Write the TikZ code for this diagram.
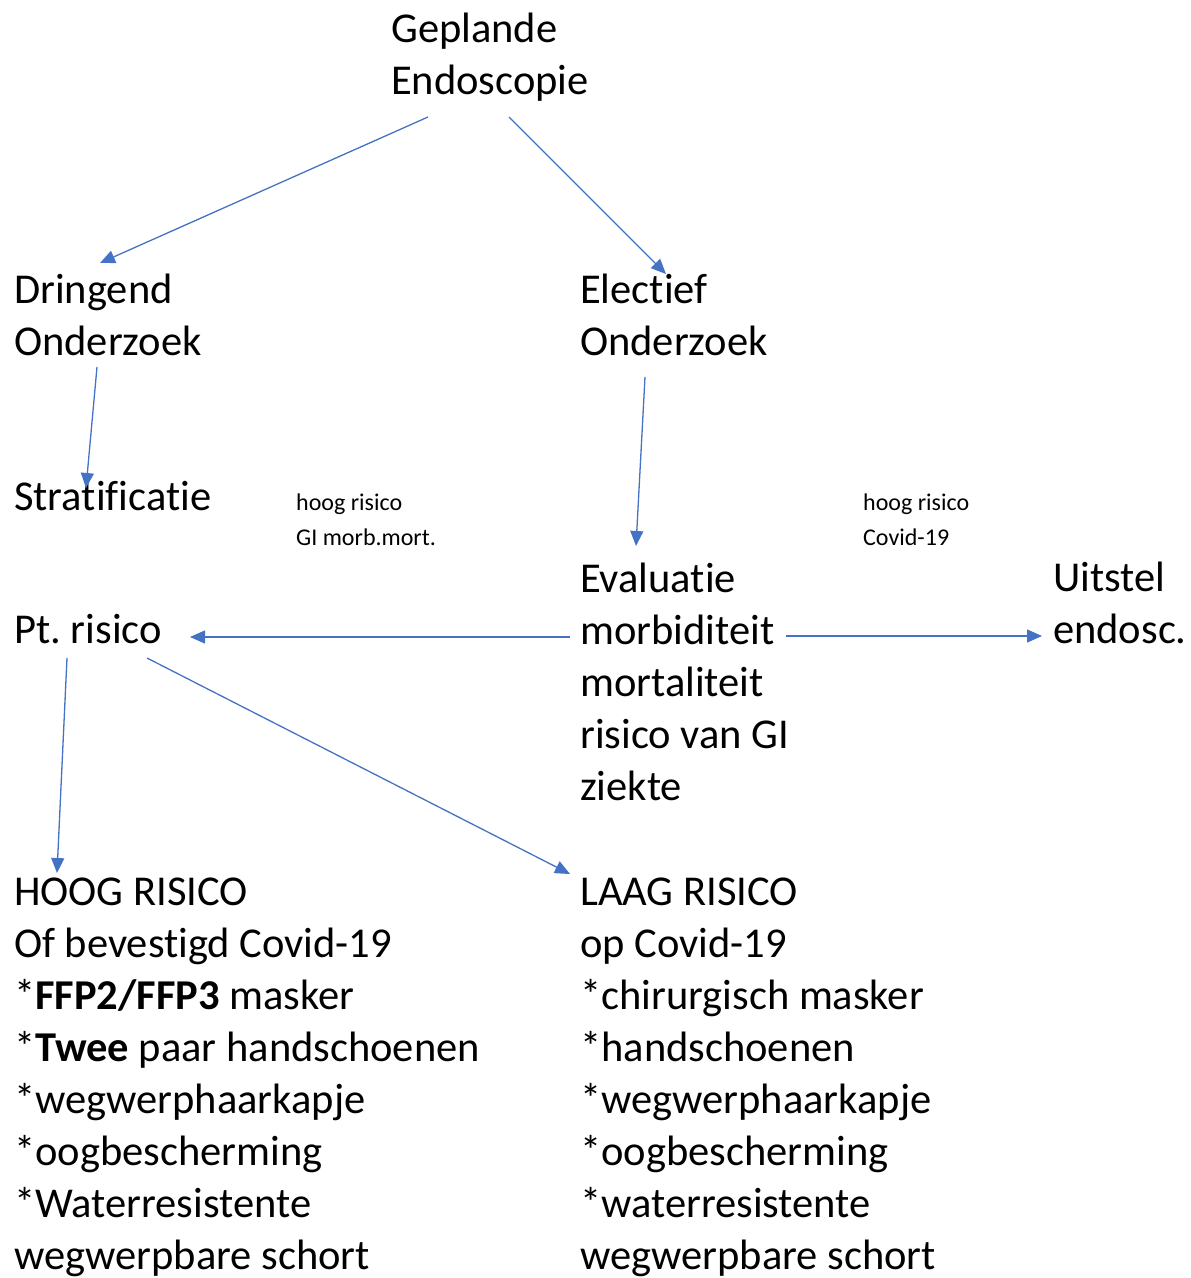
\documentclass[tikz,border=0pt]{standalone}
\usepackage{fontspec}
\setmainfont[Ligatures=NoCommon]{Carlito}
\frenchspacing
\usetikzlibrary{arrows.meta}
\definecolor{pijlblauw}{HTML}{4472C4}
\tikzset{
  tekst/.style={anchor=base west,inner sep=0pt,align=left,font=\fontsize{42.5}{52}\selectfont},
  klein/.style={anchor=base west,inner sep=0pt,align=left,font=\fontsize{24}{35}\selectfont},
  pijl/.style={-{Triangle[length=15pt,width=13pt]},color=pijlblauw,line width=1.3pt}
}
\begin{document}
\begin{tikzpicture}[x=1pt,y=-1pt]
      \useasboundingbox (0,0) rectangle (1191,1278);
      % base anchor = baseline of the last line
      \draw
        (391,94) node[tekst] (geplande){Geplande\\Endoscopie}
        (14,355) node[tekst] (dringend){Dringend\\Onderzoek}
        (580,355) node[tekst] (electief){Electief\\Onderzoek}
        (14,510) node[tekst] (stratificatie){Stratificatie}
        (296,545) node[klein] (hooggi){hoog risico\\GI morb.mort.}
        (863,545) node[klein] (hoogcovid){hoog risico\\Covid-19}
        (580,800) node[tekst] (evaluatie){Evaluatie\\morbiditeit\\mortaliteit\\risico van GI\\ziekte}
        (1053,643) node[tekst] (uitstel){Uitstel\\endosc.}
        (14,643) node[tekst] (ptrisico){Pt. risico}
        (14,1269) node[tekst] (hoog){HOOG RISICO\\Of bevestigd Covid-19\\*\textbf{FFP2/FFP3} masker\\*\textbf{Twee} paar handschoenen\\*wegwerphaarkapje\\*oogbescherming\\*Waterresistente\\wegwerpbare schort}
        (580,1269) node[tekst] (laag){LAAG RISICO\\op Covid-19\\*chirurgisch masker\\*handschoenen\\*wegwerphaarkapje\\*oogbescherming\\*waterresistente\\wegwerpbare schort};
      \begin{scope}[pijl]
        \draw ([shift={(37,23)}]geplande.base west) to ([shift={(86,-92)}]dringend.base west);
        \draw ([shift={(118,23)}]geplande.base west) to ([shift={(86,-81)}]electief.base west);
        \draw ([shift={(83,12)}]dringend.base west) to ([shift={(72,-22)}]stratificatie.base west);
        \draw ([shift={(65,22)}]electief.base west) to ([shift={(56,-254)}]evaluatie.base west);
        \draw ([shift={(-10,-163)}]evaluatie.base west) to ([shift={(176,-6)}]ptrisico.base west);
        \draw ([shift={(206,-164)}]evaluatie.base west) to ([shift={(-11,-7)}]uitstel.base west);
        \draw ([shift={(53,15)}]ptrisico.base west) to ([shift={(43,-396)}]hoog.base west);
        \draw ([shift={(133,15)}]ptrisico.base west) to ([shift={(-10,-395)}]laag.base west);
      \end{scope}
    \end{tikzpicture}
\end{document}
